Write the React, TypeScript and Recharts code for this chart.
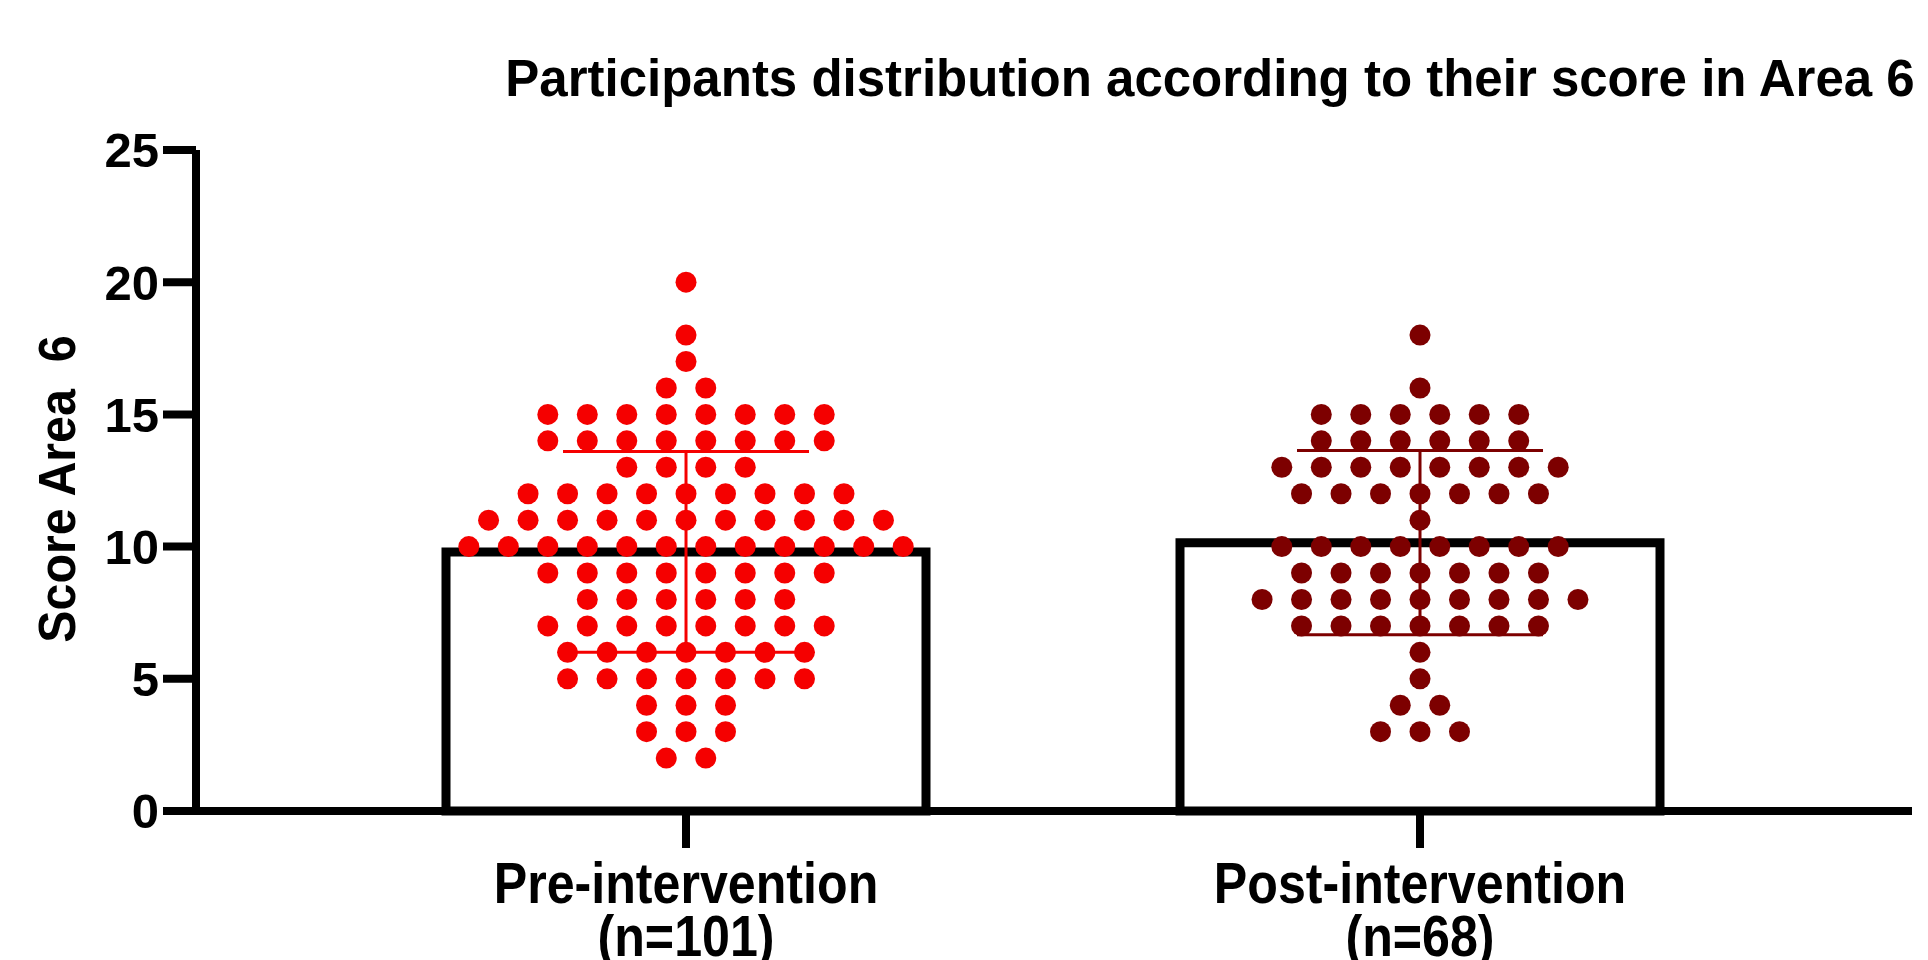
import React from "react";
import { ComposedChart, Bar, Scatter, ErrorBar, XAxis, YAxis } from "recharts";

const categories = ["Pre-intervention", "Post-intervention"];
const sampleSizes = ["(n=101)", "(n=68)"];
const categoryX = [1, 2];
const means = [9.8, 10.15];
const sds = [3.8, 3.48];

// score levels and how many participants sit on each level
const preScores = [20, 18, 17, 16, 15, 14, 13, 12, 11, 10, 9, 8, 7, 6, 5, 4, 3, 2];
const preCounts = [1, 1, 1, 2, 8, 8, 4, 9, 11, 12, 8, 6, 8, 7, 7, 3, 3, 2];
const postScores = [18, 16, 15, 14, 13, 12, 11, 10, 9, 8, 7, 6, 5, 4, 3];
const postCounts = [1, 1, 6, 6, 8, 7, 1, 8, 7, 9, 7, 1, 1, 2, 3];
const yTicks = [0, 5, 10, 15, 20, 25];

const PRE_RED = "#f50000";
const POST_RED = "#7d0000";
const FONT = "'Liberation Sans', Arial, sans-serif";
const DOT_STEP = 0.0538; // horizontal gap between dots, in x units

function swarm(center: number, scores: number[], counts: number[]) {
  const pts: { x: number; y: number }[] = [];
  scores.forEach((s, k) => {
    const n = counts[k];
    for (let i = 0; i < n; i++) pts.push({ x: center + (i - (n - 1) / 2) * DOT_STEP, y: s });
  });
  return pts;
}

const barData = categories.map((c, i) => ({ name: c, x: categoryX[i], mean: means[i] }));
const preDots = swarm(categoryX[0], preScores, preCounts);
const postDots = swarm(categoryX[1], postScores, postCounts);
const preMean = [{ x: categoryX[0], y: means[0], sd: sds[0] }];
const postMean = [{ x: categoryX[1], y: means[1], sd: sds[1] }];

const dot = (color: string) => (p: any) => <circle cx={p.cx} cy={p.cy} r={10.5} fill={color} />;
const nothing = () => <g />;

function CategoryTick({ x, y, payload }: any) {
  const i = categoryX.indexOf(payload.value);
  if (i < 0) return null;
  return (
    <g transform={`translate(${x} ${y}) scale(0.88 1)`} fontFamily={FONT} fontWeight="bold" fontSize={57} fill="#000" textAnchor="middle">
      <text x={0} y={53}>{categories[i]}</text>
      <text x={0} y={106}>{sampleSizes[i]}</text>
    </g>
  );
}

export default function App() {
  return (
    <div style={{ position: "absolute", left: 0, top: 0, width: 1928, height: 960, background: "#fff" }}>
      <ComposedChart
        width={1928}
        height={960}
        data={barData}
        margin={{ top: 150, right: 16, bottom: 0, left: 0 }}
      >
        <XAxis xAxisId="cat" dataKey="name" type="category" hide height={0} padding={{ left: 123, right: 125 }} />
        <XAxis
          xAxisId="num"
          dataKey="x"
          type="number"
          domain={[0.3324, 2.6703]}
          allowDataOverflow
          ticks={categoryX}
          interval={0}
          height={149}
          tickSize={37}
          tickMargin={2}
          axisLine={{ stroke: "#000", strokeWidth: 8 }}
          tickLine={{ stroke: "#000", strokeWidth: 8 }}
          tick={<CategoryTick />}
        />
        <YAxis
          type="number"
          domain={[0, 25]}
          ticks={yTicks}
          interval={0}
          width={196}
          tickSize={33}
          tickMargin={4}
          axisLine={{ stroke: "#000", strokeWidth: 8 }}
          tickLine={{ stroke: "#000", strokeWidth: 8 }}
          tick={{ fill: "#000", fontSize: 49, fontWeight: "bold", fontFamily: FONT }}
        />
        <Bar xAxisId="cat" dataKey="mean" fill="#fff" stroke="#000" strokeWidth={9} barSize={480} isAnimationActive={false} />
        <Scatter xAxisId="num" data={preDots} dataKey="y" shape={dot(PRE_RED)} isAnimationActive={false} />
        <Scatter xAxisId="num" data={postDots} dataKey="y" shape={dot(POST_RED)} isAnimationActive={false} />
        <Scatter xAxisId="num" data={preMean} dataKey="y" shape={nothing} isAnimationActive={false}>
          <ErrorBar dataKey="sd" direction="y" width={123} stroke={PRE_RED} strokeWidth={3} />
        </Scatter>
        <Scatter xAxisId="num" data={postMean} dataKey="y" shape={nothing} isAnimationActive={false}>
          <ErrorBar dataKey="sd" direction="y" width={123} stroke={POST_RED} strokeWidth={3} />
        </Scatter>
      </ComposedChart>
      <svg
        width={1928}
        height={960}
        style={{ position: "absolute", left: 0, top: 0, pointerEvents: "none" }}
      >
        <text x={1210} y={96} textAnchor="middle" fontFamily={FONT} fontWeight="bold" fontSize={51} fill="#000">
          Participants distribution according to their score in Area 6
        </text>
        <text
          transform="translate(75 489) rotate(-90) scale(0.93 1)"
          x={0}
          y={0}
          textAnchor="middle"
          fontFamily={FONT}
          fontWeight="bold"
          fontSize={52}
          fill="#000"
          style={{ whiteSpace: "pre" }}
        >
          {"Score Area  6"}
        </text>
      </svg>
    </div>
  );
}
